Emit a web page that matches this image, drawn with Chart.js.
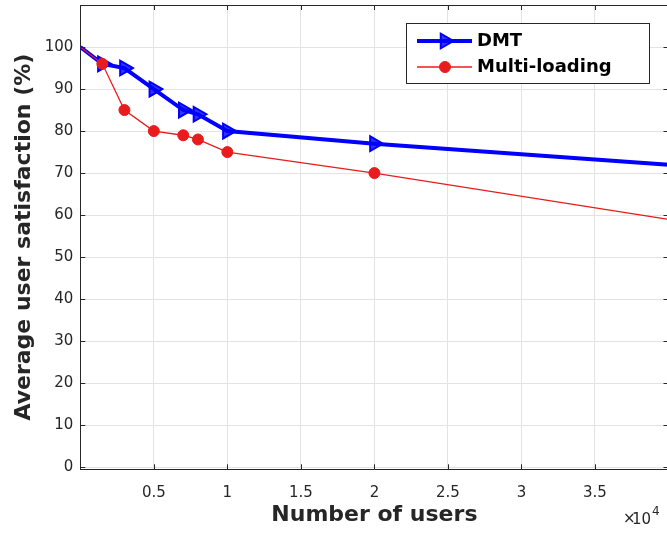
<!DOCTYPE html>
<html>
<head>
<meta charset="utf-8">
<script src="https://cdn.jsdelivr.net/npm/chart.js@4/dist/chart.umd.min.js"></script>
<style>
  html, body { margin: 0; padding: 0; background: #ffffff; overflow: hidden; }
  #wrap { width: 667px; height: 533px; overflow: hidden; }
  canvas { display: block; }
</style>
</head>
<body>
<div id="wrap"><canvas id="c" width="680" height="533"></canvas></div>
<script>
// ---- data (number of users in units of 10^4) ----
const users = [0, 0.15, 0.3, 0.5, 0.7, 0.8, 1, 2, 4];
const dmtValues = [100, 96, 95, 90, 85, 84, 80, 77, 72];
const multiLoadingValues = [100, 96, 85, 80, 79, 78, 75, 70, 59];
const seriesNames = ["DMT", "Multi-loading"];
const xTickValues = [0.5, 1, 1.5, 2, 2.5, 3, 3.5];
const yTickValues = [0, 10, 20, 30, 40, 50, 60, 70, 80, 90, 100];
const xTitle = "Number of users";
const yTitle = "Average user satisfaction (%)";

const AXIS = '#262626';
const GRID = '#e3e3e3';
const BLUE = '#0000ff';
const BLUE_FILL = 'rgba(0,0,255,0.8)';
const RED = '#e81c1c';
const FONT = '"DejaVu Sans", sans-serif';

function pts(xs, ys) { return xs.map((x, i) => ({ x: x, y: ys[i] })); }
const lastIdx = users.length - 1;
function hideEnds(ctx, r) { return (ctx.dataIndex === 0 || ctx.dataIndex === lastIdx) ? 0 : r; }

const frame = {
  id: 'frame',
  afterDraw(chart) {
    const ctx = chart.ctx;
    const a = chart.chartArea;
    const xs = chart.scales.x, ys = chart.scales.y;
    ctx.save();
    ctx.strokeStyle = AXIS;
    ctx.lineWidth = 1;
    // top and right border
    ctx.beginPath();
    ctx.moveTo(a.left, a.top + 0.5); ctx.lineTo(a.right, a.top + 0.5);
    ctx.moveTo(a.right - 0.5, a.top); ctx.lineTo(a.right - 0.5, a.bottom);
    ctx.stroke();
    // inward tick marks
    const L = 5;
    ctx.beginPath();
    xTickValues.forEach(v => {
      const px = Math.round(xs.getPixelForValue(v)) + 0.5;
      ctx.moveTo(px, a.bottom); ctx.lineTo(px, a.bottom - L);
      ctx.moveTo(px, a.top); ctx.lineTo(px, a.top + L);
    });
    yTickValues.forEach(v => {
      const py = Math.round(ys.getPixelForValue(v)) + 0.5;
      ctx.moveTo(a.left, py); ctx.lineTo(a.left + L, py);
      ctx.moveTo(a.right, py); ctx.lineTo(a.right - L, py);
    });
    ctx.stroke();

    // x10^4 exponent label
    ctx.fillStyle = AXIS;
    ctx.textBaseline = 'alphabetic';
    ctx.textAlign = 'left';
    ctx.font = '15px ' + FONT;
    ctx.fillText('\u00d7', 623, 523);
    ctx.fillText('10', 632, 524);
    ctx.font = '12px ' + FONT;
    ctx.fillText('4', 652, 515);

    // legend box
    const ds = chart.data.datasets;
    ctx.fillStyle = '#ffffff';
    ctx.fillRect(407, 24, 243, 60);
    ctx.strokeStyle = AXIS;
    ctx.lineWidth = 1;
    ctx.strokeRect(406.5, 23.5, 243, 60);
    const rows = [41, 67];
    ds.forEach((d, i) => {
      const y = rows[i];
      ctx.strokeStyle = d.borderColor;
      ctx.lineWidth = d.borderWidth;
      ctx.beginPath(); ctx.moveTo(417, y); ctx.lineTo(472, y); ctx.stroke();
      ctx.fillStyle = d.legendFill;
      ctx.strokeStyle = d.pointBorderColor;
      ctx.lineWidth = d.pointBorderWidth;
      Chart.helpers.drawPoint(ctx, {
        pointStyle: d.pointStyle, rotation: d.pointRotation || 0,
        radius: d.legendRadius, borderWidth: d.pointBorderWidth
      }, 445, y);
      ctx.fillStyle = '#000000';
      ctx.font = 'bold 18px ' + FONT;
      ctx.textBaseline = 'middle';
      ctx.fillText(d.label, 477, y + 0.5);
    });
    ctx.restore();
  }
};

new Chart(document.getElementById('c'), {
  type: 'line',
  data: {
    datasets: [
      {
        label: seriesNames[0],
        data: pts(users, dmtValues),
        borderColor: BLUE,
        borderWidth: 4,
        pointStyle: 'triangle',
        pointRotation: 90,
        pointRadius: c => hideEnds(c, 8.5),
        pointBorderColor: BLUE,
        pointBackgroundColor: BLUE_FILL,
        pointBorderWidth: 2,
        legendFill: BLUE_FILL,
        legendRadius: 8.5,
        fill: false,
        tension: 0,
        order: 1
      },
      {
        label: seriesNames[1],
        data: pts(users, multiLoadingValues),
        borderColor: RED,
        borderWidth: 1.3,
        pointStyle: 'circle',
        pointRadius: c => hideEnds(c, 5.5),
        pointBorderColor: RED,
        pointBackgroundColor: RED,
        pointBorderWidth: 1,
        legendFill: RED,
        legendRadius: 5.5,
        fill: false,
        tension: 0,
        order: 0
      }
    ]
  },
  options: {
    responsive: false,
    animation: false,
    devicePixelRatio: 1,
    layout: { padding: { top: 5, right: 11.5, left: 0, bottom: 0 } },
    plugins: { legend: { display: false }, tooltip: { enabled: false } },
    scales: {
      x: {
        type: 'linear',
        min: 0, max: 4,
        afterBuildTicks: s => { s.ticks = xTickValues.map(v => ({ value: v })); },
        afterFit: s => { s.height = 63.7; s.paddingLeft = 0; s.paddingRight = 0; },
        grid: { color: GRID, lineWidth: 1, drawTicks: false },
        border: { color: AXIS, width: 1 },
        ticks: { color: AXIS, padding: 15, font: { family: FONT, size: 15 }, maxRotation: 0,
                 callback: v => String(v) },
        title: { display: true, text: xTitle, color: AXIS,
                 font: { family: FONT, size: 22, weight: 'bold' }, padding: { top: 0, bottom: 5 } }
      },
      y: {
        type: 'linear',
        min: -0.5, max: 110,
        afterBuildTicks: s => { s.ticks = yTickValues.map(v => ({ value: v })); },
        afterFit: s => { s.width = 80.3; s.paddingTop = 0; s.paddingBottom = 0; },
        grid: { color: GRID, lineWidth: 1, drawTicks: false },
        border: { color: AXIS, width: 1 },
        ticks: { color: AXIS, padding: 7, font: { family: FONT, size: 15 },
                 callback: v => String(v) },
        title: { display: true, text: yTitle, color: AXIS,
                 font: { family: FONT, size: 22, weight: 'bold' }, padding: { top: 11, bottom: 0 } }
      }
    }
  },
  plugins: [frame]
});
</script>
</body>
</html>
